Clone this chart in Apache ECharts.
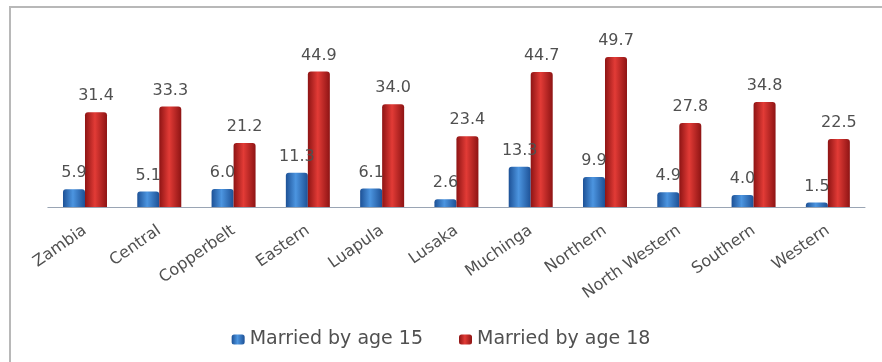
<!DOCTYPE html>
<html>
<head>
<meta charset="utf-8">
<script src="https://cdn.jsdelivr.net/npm/echarts@6/dist/echarts.min.js"></script>
<style>
html,body{margin:0;padding:0;background:#fff;}
#c{width:882px;height:362px;}
</style>
</head>
<body>
<div id="c"></div>
<script>
const categories = ["Zambia","Central","Copperbelt","Eastern","Luapula","Lusaka","Muchinga","Northern","North Western","Southern","Western"];
const marriedBy15 = [5.9,5.1,6.0,11.3,6.1,2.6,13.3,9.9,4.9,4.0,1.5];
const marriedBy18 = [31.4,33.3,21.2,44.9,34.0,23.4,44.7,49.7,27.8,34.8,22.5];
const seriesNames = ["Married by age 15","Married by age 18"];

const FONT = "DejaVu Sans";
function grad(dark, light){
  return new echarts.graphic.LinearGradient(0,0,1,0,[
    {offset:0,color:dark},{offset:0.45,color:light},{offset:1,color:dark}
  ]);
}
const blueFill = grad('#1d5196','#4c95e0');
const redFill = grad('#8e1414','#e23b36');

const chart = echarts.init(document.getElementById('c'));
chart.setOption({
  animation:false,
  backgroundColor:'#fff',
  graphic:[{
    type:'rect', shape:{x:10,y:7,width:874,height:380},
    style:{fill:'none',stroke:'#b8b8b8',lineWidth:2}, silent:true
  }],
  grid:{left:47.85,right:17,top:56,bottom:155,containLabel:false},
  legend:{
    data:seriesNames, bottom:8, left:'center',
    itemWidth:13, itemHeight:10, itemGap:36,
    textStyle:{fontFamily:FONT,fontSize:19,color:'#505050'}
  },
  xAxis:{
    type:'category', data:categories,
    axisLine:{lineStyle:{color:'#9aa5b4',width:1}},
    axisTick:{show:false},
    axisLabel:{rotate:35,fontFamily:FONT,fontSize:16,color:'#505050',margin:22,interval:0}
  },
  yAxis:{
    type:'value', min:0, max:50, show:false,
    splitLine:{show:false}
  },
  series:[
    {
      name:seriesNames[0], type:'bar', data:marriedBy15,
      barWidth:22, barGap:'0%',
      itemStyle:{color:blueFill, borderRadius:[3,3,0,0]},
      label:{show:true,position:'top',distance:8,formatter:p=>p.value.toFixed(1),
        fontFamily:FONT,fontSize:16,color:'#505050'}
    },
    {
      name:seriesNames[1], type:'bar', data:marriedBy18,
      barWidth:22, barGap:'0%',
      itemStyle:{color:redFill, borderRadius:[3,3,0,0]},
      label:{show:true,position:'top',distance:8,formatter:p=>p.value.toFixed(1),
        fontFamily:FONT,fontSize:16,color:'#505050'}
    }
  ]
});
</script>
</body>
</html>
